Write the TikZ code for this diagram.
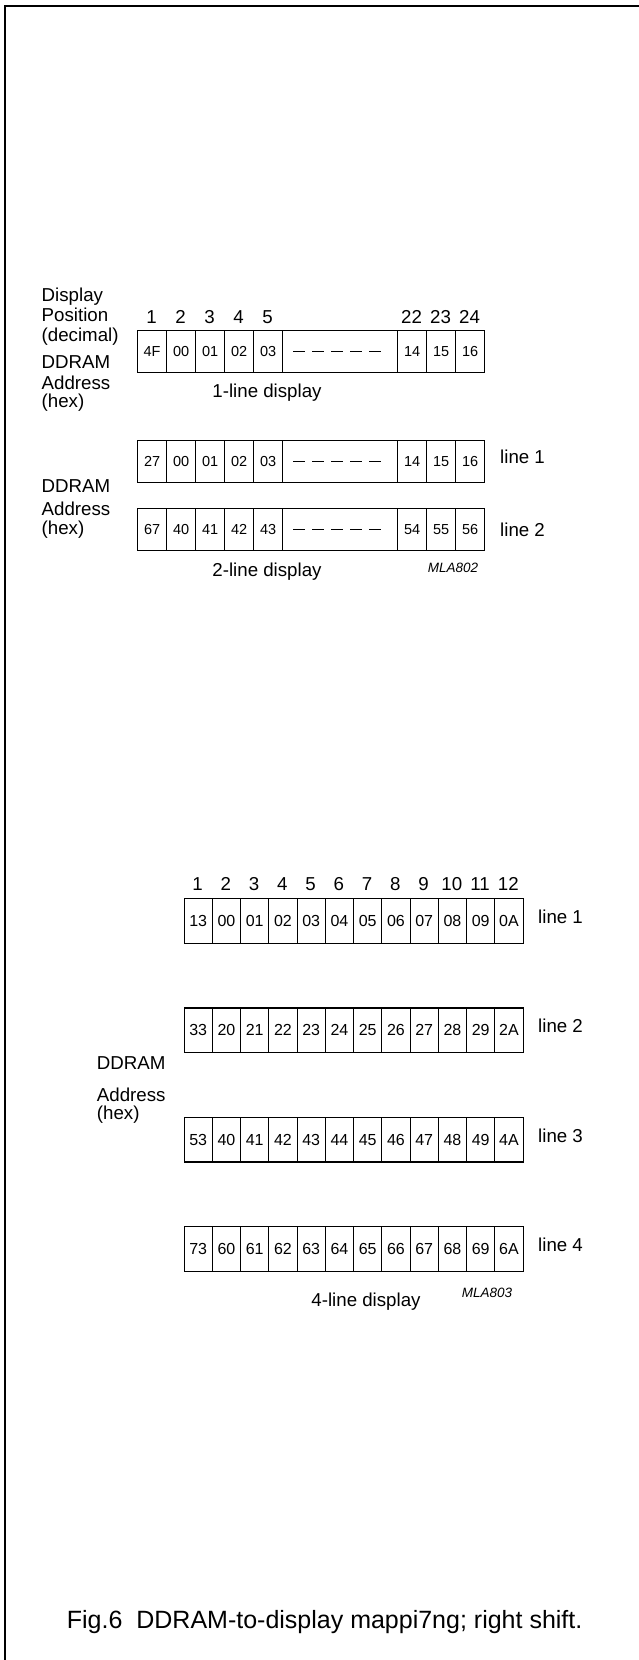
\documentclass[tikz,border=0pt]{standalone}
\usepackage{fontspec}
\setmainfont{Liberation Sans}
\begin{document}
\begin{tikzpicture}[x=1pt,y=-1pt,
  lbl/.style={font=\fontsize{18.7}{20}\selectfont, inner sep=0, anchor=base west},
  num/.style={font=\fontsize{18.7}{20}\selectfont, inner sep=0, anchor=base},
  sub/.style={font=\fontsize{18.7}{20}\selectfont, inner sep=0, anchor=base},
  code/.style={font=\fontsize{13.5}{14}\selectfont\itshape, inner sep=0, anchor=base},
  cellA/.style={draw, line width=1.2pt, minimum width=29pt, minimum height=41.5pt, inner sep=0, anchor=north west, font=\fontsize{14.5}{15}\selectfont},
  gapA/.style={draw, line width=1.2pt, minimum width=115pt, minimum height=41.5pt, inner sep=0, anchor=north west},
  cellB/.style={draw, line width=1.2pt, minimum width=28.25pt, minimum height=44.5pt, inner sep=0, anchor=north west, font=\fontsize{16}{17}\selectfont},
  dashes/.style={line width=1.3pt, dash pattern=on 12pt off 7pt},
  frame/.style={line width=2pt}
]
\useasboundingbox (0,0) rectangle (639,1660);
% frame
\coordinate (fbl) at (4.5,1660);
\coordinate (ftl) at (4.5,5.5);
\coordinate (ftr) at (639,5.5);
\draw[frame] (fbl) -- (ftl) -- (ftr);

% ---------- 1-line display ----------
\node[lbl] (tDisp) at (41.5,301.7) {Display};
\node[lbl] (tPos) at (41.5,321.7) {Position};
\node[lbl] (tDec) at (41.5,341.7) {(decimal)};
\node[lbl] (tDD1) at (41.5,368.3) {DDRAM};
\node[lbl] (tAd1) at (41.5,389) {Address};
\node[lbl] (tHx1) at (41.5,407.7) {(hex)};

\foreach \t [count=\i] in {4F,00,01,02,03} {
  \node[cellA] (o\i) at ({137+(\i-1)*29},330) {\t};
  \node[num] (on\i) at ({151.5+(\i-1)*29},323.3) {\i};
}
\node[gapA] (og) at (282,330) {};
\draw[dashes] ([xshift=11pt]og.west) -- ([xshift=-14pt]og.east);
\foreach \t/\n [count=\i] in {14/22,15/23,16/24} {
  \node[cellA] (oe\i) at ({397+(\i-1)*29},330) {\t};
  \node[num] (oen\i) at ({411.5+(\i-1)*29},323.3) {\n};
}
\node[sub] (s1) at (267,397.3) {1-line display};

% ---------- 2-line display ----------
\node[lbl] (tDD2) at (41.5,492.7) {DDRAM};
\node[lbl] (tAd2) at (41.5,515.7) {Address};
\node[lbl] (tHx2) at (41.5,534) {(hex)};

\foreach \r/\ty/\va/\vb in {1/440/{27,00,01,02,03}/{14,15,16}, 2/508/{67,40,41,42,43}/{54,55,56}} {
  \foreach \t [count=\i] in \va {
    \node[cellA] (t\r-\i) at ({137+(\i-1)*29},\ty) {\t};
  }
  \node[gapA] (tg\r) at (282,\ty) {};
  \draw[dashes] ([xshift=11pt]tg\r.west) -- ([xshift=-14pt]tg\r.east);
  \foreach \t [count=\i] in \vb {
    \node[cellA] (te\r-\i) at ({397+(\i-1)*29},\ty) {\t};
  }
}
\node[lbl] (tl1) at (500,463.3) {line 1};
\node[lbl] (tl2) at (500,536.7) {line 2};
\node[sub] (s2) at (267,576) {2-line display};
\node[code] (m2) at (453,572) {MLA802};

% ---------- 4-line display ----------
\foreach \i in {1,...,12} {
  \node[num] (qn\i) at ({197.6+(\i-1)*28.25},890) {\i};
}
\foreach \r/\ty/\vals in {
  1/898/{13,00,01,02,03,04,05,06,07,08,09,0A},
  2/1007.4/{33,20,21,22,23,24,25,26,27,28,29,2A},
  3/1116.8/{53,40,41,42,43,44,45,46,47,48,49,4A},
  4/1226.2/{73,60,61,62,63,64,65,66,67,68,69,6A}} {
  \foreach \t [count=\i] in \vals {
    \node[cellB] (q\r-\i) at ({183.5+(\i-1)*28.25},\ty) {\t};
  }
  \node[lbl] (ql\r) at (538,\ty+25.3) {line \r};
}
\node[lbl] (tDD4) at (96.7,1069.3) {DDRAM};
\node[lbl] (tAd4) at (96.7,1101.7) {Address};
\node[lbl] (tHx4) at (96.7,1119) {(hex)};
\node[sub] (s4) at (366,1306.7) {4-line display};
\node[code] (m4) at (487,1297.5) {MLA803};

% caption
\node[font=\fontsize{25}{27}\selectfont, inner sep=0, anchor=base west] (cap) at (66.7,1628) {Fig.6\hspace{0.556em}DDRAM-to-display mappi7ng; right shift.};
\end{tikzpicture}
\end{document}
